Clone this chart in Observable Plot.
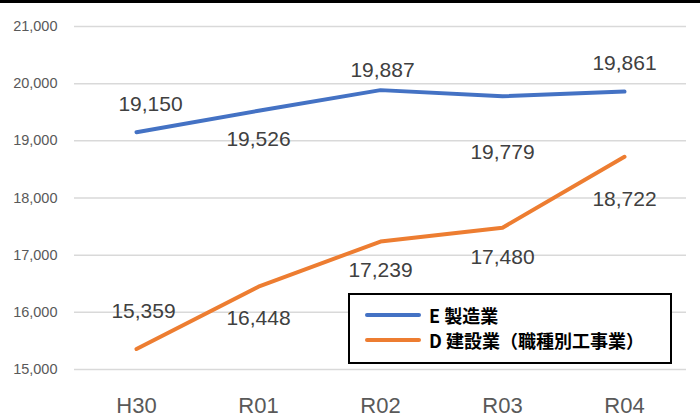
<!DOCTYPE html>
<html>
<head>
<meta charset="utf-8">
<script src="https://cdn.jsdelivr.net/npm/d3@7"></script>
<script src="https://cdn.jsdelivr.net/npm/@observablehq/plot@0.6"></script>
<style>
  html, body { margin: 0; padding: 0; background: #fff; }
  #wrap { position: relative; width: 700px; height: 420px; overflow: hidden; }
  #topline { position: absolute; left: 0; top: 0; width: 700px; height: 3px; background: #000; }
  #legend {
    position: absolute; left: 348px; top: 293px; width: 320px; height: 67px;
    border: 2px solid #000; background: #fff; box-sizing: content-box;
    font-family: "Noto Sans CJK JP", "Noto Sans", sans-serif; font-weight: bold; font-size: 18px; color: #000;
  }
  .item { position: absolute; left: 15px; display: flex; align-items: center; }
  .swatch { width: 56px; height: 4px; margin-right: 8px; border-radius: 2px; }
</style>
</head>
<body>
<div id="wrap">
  <div id="chart"></div>
  <div id="topline"></div>
  <div id="legend"></div>
</div>
<script>
const years = ["H30", "R01", "R02", "R03", "R04"];
const seriesNames = ["E 製造業", "D 建設業（職種別工事業）"];
const seriesColors = ["#4472C4", "#ED7D31"];
const manufacturing = [19150, 19526, 19887, 19779, 19861];
const construction = [15359, 16448, 17239, 17480, 18722];
const yTicks = [15000, 16000, 17000, 18000, 19000, 20000, 21000];

// label layout (pixel offsets of each data label from its point), not data
const mfgLabelOffset = [[14, -28], [0, 29], [2, -20], [0, 56], [0, -28]];
const conLabelOffset = [[7, -38], [0, 32], [0, 29], [0, 30], [0, 43]];

const rows = [];
years.forEach((yr, i) => {
  rows.push({year: yr, value: manufacturing[i], series: seriesNames[0], off: mfgLabelOffset[i]});
  rows.push({year: yr, value: construction[i], series: seriesNames[1], off: conLabelOffset[i]});
});
const fmt = d3.format(",");

const chart = Plot.plot({
  width: 700,
  height: 420,
  marginTop: 26,
  marginBottom: 51,
  marginLeft: 74,
  marginRight: 14,
  style: {fontFamily: "'Liberation Sans', Arial, sans-serif", background: "transparent"},
  x: {type: "point", domain: years, padding: 0.5, label: null},
  y: {domain: [15000, 21000], label: null},
  color: {domain: seriesNames, range: seriesColors},
  marks: [
    Plot.gridY(yTicks, {stroke: "#d9d9d9", strokeOpacity: 1, strokeWidth: 1.5}),
    Plot.axisY(yTicks, {tickSize: 0, tickPadding: 17, tickFormat: fmt, fontSize: 14.5, fill: "#595959", label: null}),
    Plot.axisX({tickSize: 0, tickPadding: 28, fontSize: 22, fill: "#595959", label: null}),
    Plot.line(rows, {x: "year", y: "value", z: "series", stroke: "series", strokeWidth: 4, strokeLinecap: "round", strokeLinejoin: "round"}),
    ...rows.map(r => Plot.text([r], {x: "year", y: "value", text: d => fmt(d.value), dx: r.off[0], dy: r.off[1], fontSize: 21, fill: "#404040"}))
  ]
});
document.getElementById("chart").appendChild(chart);

const legend = document.getElementById("legend");
seriesNames.forEach((name, i) => {
  const item = document.createElement("div");
  item.className = "item";
  item.style.top = (i === 0 ? 7 : 32) + "px";
  const sw = document.createElement("div");
  sw.className = "swatch";
  sw.style.background = seriesColors[i];
  const label = document.createElement("span");
  label.textContent = name;
  item.appendChild(sw);
  item.appendChild(label);
  legend.appendChild(item);
});
</script>
</body>
</html>
